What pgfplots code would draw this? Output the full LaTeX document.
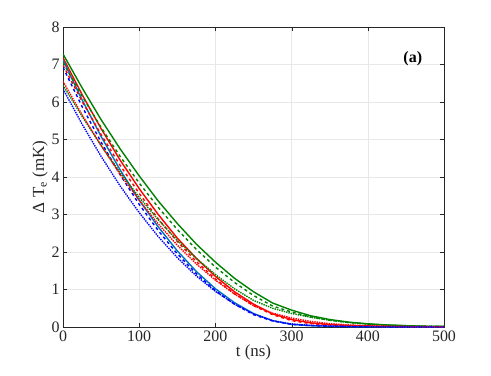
\documentclass[border=0pt]{standalone}
\usepackage{fontspec}
\setmainfont{Liberation Serif}
\usepackage{pgfplots}
\pgfplotsset{compat=1.18}

\definecolor{mgreen}{rgb}{0,0.5,0}
\definecolor{mblue}{rgb}{0,0.447,0.741}
\definecolor{axgray}{rgb}{0.15,0.15,0.15}

% t (ns) vs Delta T_e (mK)
\pgfplotstableread{
t    gs    gd    gt    rs    rd    rt    bs    bd    bt
0    7.28  7.05  6.45  7.18  6.98  6.55  7.12  6.92  6.35
25   6.38  6.16  5.62  6.20  6.02  5.66  6.06  5.88  5.41
50   5.53  5.32  4.84  5.29  5.13  4.84  5.08  4.93  4.55
75   4.75  4.55  4.12  4.45  4.31  4.07  4.19  4.06  3.76
100  4.03  3.84  3.46  3.69  3.56  3.38  3.38  3.27  3.05
125  3.36  3.19  2.86  3.00  2.88  2.75  2.67  2.57  2.41
150  2.76  2.60  2.31  2.37  2.28  2.18  2.03  1.95  1.85
175  2.21  2.07  1.83  1.83  1.745 1.68  1.48  1.42  1.36
200  1.73  1.60  1.40  1.35  1.28  1.25  1.02  0.97  0.95
225  1.30  1.19  1.02  0.94  0.89  0.88  0.65  0.61  0.61
250  0.94  0.84  0.71  0.61  0.57  0.57  0.36  0.33  0.35
275  0.64  0.56  0.50  0.35  0.33  0.37  0.17  0.16  0.17
300  0.45  0.40  0.36  0.20  0.17  0.24  0.07  0.07  0.08
325  0.30  0.27  0.26  0.11  0.09  0.15  0.035 0.035 0.045
350  0.20  0.18  0.18  0.065 0.055 0.09  0.02  0.02  0.025
375  0.13  0.12  0.12  0.04  0.035 0.055 0.012 0.012 0.015
400  0.085 0.08  0.08  0.025 0.022 0.035 0.008 0.008 0.01
425  0.055 0.05  0.05  0.016 0.014 0.022 0.005 0.005 0.006
450  0.035 0.033 0.035 0.01  0.009 0.014 0.003 0.003 0.004
475  0.022 0.02  0.022 0.007 0.006 0.009 0.002 0.002 0.002
500  0.015 0.013 0.015 0.005 0.004 0.006 0.001 0.001 0.001
}\data

\begin{document}
\begin{tikzpicture}
\begin{axis}[
    name=ax,
    scale only axis,
    width=381bp,
    height=300bp,
    xmin=0, xmax=500,
    ymin=0, ymax=8,
    xtick={0,100,...,500},
    ytick={0,1,...,8},
    tick align=inside,
    major tick length=4bp,
    axis line style={axgray},
    tick style={axgray},
    grid=major,
    major grid style={gray!18},
    ticklabel style={font=\fontsize{16}{16}\selectfont, text=axgray},
    /pgf/number format/assume math mode=true,
    xlabel={t (ns)},
    ylabel={Δ T\textsubscript{e} (mK)},
    label style={font=\fontsize{17}{17}\selectfont, text=axgray},
    xlabel style={yshift=3bp},
    ylabel style={yshift=-3bp},
    every axis plot/.append style={line width=1.4pt},
]
\addplot[mgreen] table[x=t,y=gs] {\data};
\addplot[red] table[x=t,y=rs] {\data};
\addplot[mblue] table[x=t,y=bs] {\data};
\addplot[mgreen, dashed] table[x=t,y=gd] {\data};
\addplot[red, dashed] table[x=t,y=rd] {\data};
\addplot[blue, dashed] table[x=t,y=bd] {\data};
\addplot[mgreen, densely dotted] table[x=t,y=gt] {\data};
\addplot[red, densely dotted] table[x=t,y=rt] {\data};
\addplot[blue, densely dotted] table[x=t,y=bt] {\data};
\node[font=\bfseries\fontsize{16}{16}\selectfont] at (axis cs:459,7.15) {(a)};
\end{axis}
\path (ax.south west) ++(-63bp,-48bp);
\path (ax.north east) ++(47bp,27bp);
\end{tikzpicture}
\end{document}
